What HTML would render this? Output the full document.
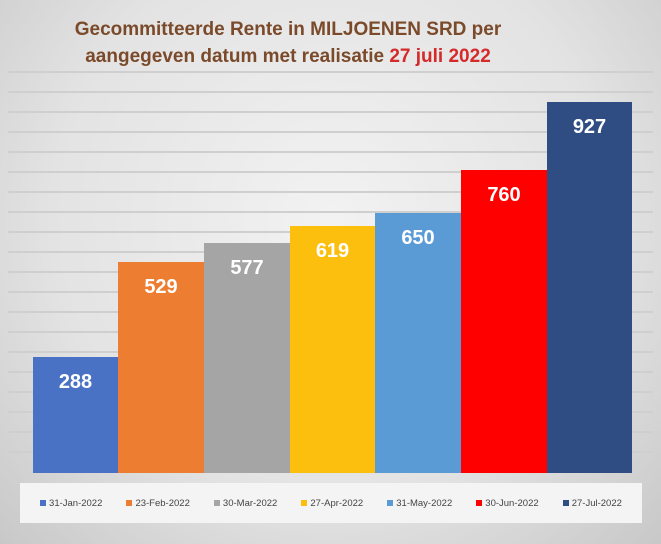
<!DOCTYPE html>
<html><head><style>
body{margin:0;width:661px;height:544px;overflow:hidden;font-family:"Liberation Sans",sans-serif;}
.bg{position:absolute;left:0;top:0;width:661px;height:544px;background:radial-gradient(ellipse at 50% 40%,#f2f2f2 0%,#e3e3e3 60%,#c8c8c8 100%);}
.title{position:absolute;left:0;width:576px;text-align:center;top:16px;font-weight:bold;font-size:19px;line-height:27px;color:#7a4a2a;}
.title span{color:#d42a2a}
.grid{position:absolute;left:8px;width:645px;height:2px;background:#cfcfcf;}
.bar{position:absolute;bottom:71px;}
.lab{position:absolute;width:100%;text-align:center;top:14px;color:#fff;font-weight:bold;font-size:20px;}
.leg{position:absolute;left:20px;top:483px;width:622px;height:40px;background:#f4f4f4;font-size:9.5px;color:#444;display:flex;align-items:center;justify-content:space-around;padding:0 8px;box-sizing:border-box}
.leg i{display:inline-block;width:6px;height:6px;margin-right:3px;vertical-align:middle}
</style></head><body>
<div class="bg"></div>
<div class="title">Gecommitteerde Rente in MILJOENEN SRD per<br>aangegeven datum met realisatie <span>27 juli 2022</span></div>
<div class="grid" style="top:71px"></div>
<div class="grid" style="top:91px"></div>
<div class="grid" style="top:111px"></div>
<div class="grid" style="top:131px"></div>
<div class="grid" style="top:151px"></div>
<div class="grid" style="top:171px"></div>
<div class="grid" style="top:191px"></div>
<div class="grid" style="top:211px"></div>
<div class="grid" style="top:231px"></div>
<div class="grid" style="top:251px"></div>
<div class="grid" style="top:271px"></div>
<div class="grid" style="top:291px"></div>
<div class="grid" style="top:311px"></div>
<div class="grid" style="top:331px"></div>
<div class="grid" style="top:351px"></div>
<div class="grid" style="top:371px"></div>
<div class="grid" style="top:391px"></div>
<div class="grid" style="top:411px"></div>
<div class="grid" style="top:431px"></div>
<div class="grid" style="top:451px"></div>
<div class="bar" style="left:33px;width:85px;height:116px;background:#4a72c4"><div class="lab">288</div></div>
<div class="bar" style="left:118px;width:86px;height:211px;background:#ec7d31"><div class="lab">529</div></div>
<div class="bar" style="left:204px;width:86px;height:230px;background:#a5a5a5"><div class="lab">577</div></div>
<div class="bar" style="left:290px;width:85px;height:247px;background:#fcbf0e"><div class="lab">619</div></div>
<div class="bar" style="left:375px;width:86px;height:260px;background:#5b9bd5"><div class="lab">650</div></div>
<div class="bar" style="left:461px;width:86px;height:303px;background:#ff0000"><div class="lab">760</div></div>
<div class="bar" style="left:547px;width:85px;height:371px;background:#2f4d82"><div class="lab">927</div></div>
<div class="leg">
<span><i style="background:#4a72c4"></i>31-Jan-2022</span>
<span><i style="background:#ec7d31"></i>23-Feb-2022</span>
<span><i style="background:#a5a5a5"></i>30-Mar-2022</span>
<span><i style="background:#fcbf0e"></i>27-Apr-2022</span>
<span><i style="background:#5b9bd5"></i>31-May-2022</span>
<span><i style="background:#ff0000"></i>30-Jun-2022</span>
<span><i style="background:#2f4d82"></i>27-Jul-2022</span>
</div>
</body></html>
